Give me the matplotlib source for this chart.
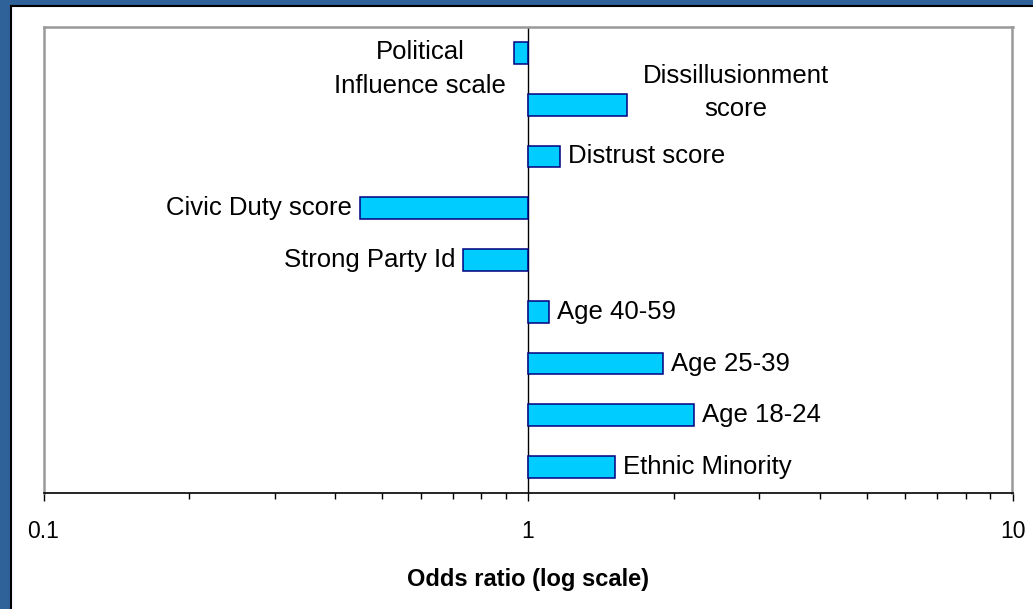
import matplotlib
matplotlib.use("Agg")
import matplotlib.pyplot as plt
from matplotlib.patches import Rectangle
from matplotlib.ticker import LogLocator, NullFormatter, FixedFormatter, FixedLocator

# odds ratios, top to bottom
labels = ["Political\nInfluence scale", "Dissillusionment\nscore", "Distrust score",
          "Civic Duty score", "Strong Party Id", "Age 40-59", "Age 25-39",
          "Age 18-24", "Ethnic Minority"]
odds = [0.936, 1.60, 1.166, 0.449, 0.735, 1.105, 1.897, 2.204, 1.51]
tick_vals = [0.1, 1, 10]
tick_text = ["0.1", "1", "10"]

plt.rcParams["font.family"] = ["Liberation Sans", "DejaVu Sans"]

fig = plt.figure(figsize=(10.33, 6.09), dpi=100)
fig.patch.set_facecolor("#2E6299")
fig.patches.append(Rectangle((10.5 / 1033, -0.1), 1.2, 1.1 - 5.5 / 609,
                             transform=fig.transFigure, facecolor="white",
                             edgecolor="black", linewidth=1.5, zorder=-10))

ax = fig.add_axes([43.5 / 1033, 1 - 493 / 609, 969 / 1033, 466 / 609])
ax.set_zorder(5)
ax.set_xscale("log")
ax.set_xlim(0.1, 10)
ax.set_ylim(len(labels) - 0.5, -0.5)

ypos = list(range(len(labels)))
lefts = [min(v, 1) for v in odds]
widths = [abs(v - 1) for v in odds]
ax.barh(ypos, widths, left=lefts, height=0.42, color="#00CCFF",
        edgecolor="#000080", linewidth=1.1, zorder=3)
ax.axvline(1, color="black", linewidth=1, zorder=2)

for i, (lab, v) in enumerate(zip(labels, odds)):
    if i == 0:
        ax.annotate(lab, xy=(v, i), xytext=(-8, -16), textcoords="offset pixels",
                    ha="right", va="center", multialignment="center",
                    linespacing=1.5, fontsize=18.5)
    elif i == 1:
        ax.annotate(lab, xy=(v, i), xytext=(16, 12), textcoords="offset pixels",
                    ha="left", va="center", multialignment="center",
                    linespacing=1.5, fontsize=18.5)
    elif v < 1:
        ax.annotate(lab, xy=(v, i), xytext=(-8, 0), textcoords="offset pixels",
                    ha="right", va="center", fontsize=18.5)
    else:
        ax.annotate(lab, xy=(v, i), xytext=(8, 0), textcoords="offset pixels",
                    ha="left", va="center", fontsize=18.5)

ax.xaxis.set_major_locator(FixedLocator(tick_vals))
ax.xaxis.set_major_formatter(FixedFormatter(tick_text))
ax.xaxis.set_minor_locator(LogLocator(base=10, subs=range(2, 10)))
ax.xaxis.set_minor_formatter(NullFormatter())
ax.tick_params(axis="x", which="major", direction="out", length=5.5, width=1,
               labelsize=16.5, pad=14)
ax.tick_params(axis="x", which="minor", direction="out", length=4.5, width=1)
ax.set_yticks([])

for s in ["top", "left", "right"]:
    ax.spines[s].set_color("#999999")
    ax.spines[s].set_linewidth(1.8)
ax.spines["bottom"].set_color("black")
ax.spines["bottom"].set_linewidth(1.2)

ax.set_xlabel("Odds ratio (log scale)", fontsize=17, fontweight="bold", labelpad=18)

fig.savefig("out.png", dpi=100, facecolor=fig.get_facecolor())
